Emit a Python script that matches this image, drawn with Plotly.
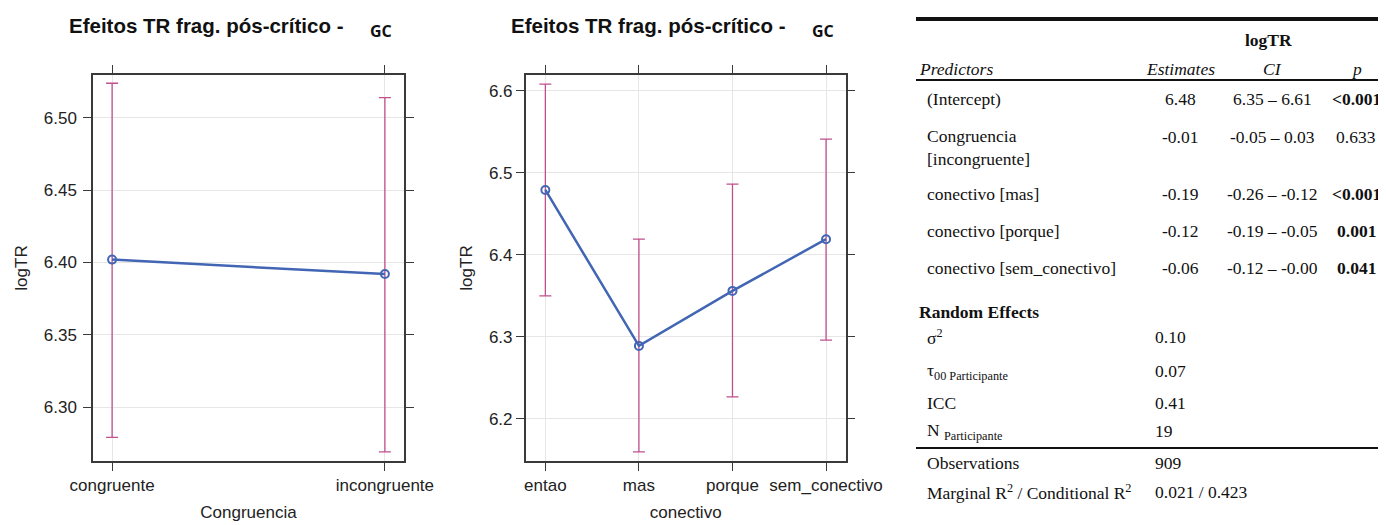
import plotly.graph_objects as go

# effect plot data
congruencia = ["congruente", "incongruente"]
cong_fit = [6.402, 6.392]
cong_lower = [6.279, 6.269]
cong_upper = [6.524, 6.514]

conectivo = ["entao", "mas", "porque", "sem_conectivo"]
con_fit = [6.479, 6.289, 6.356, 6.419]
con_lower = [6.350, 6.160, 6.227, 6.296]
con_upper = [6.608, 6.419, 6.486, 6.541]

# model table
predictors = ["(Intercept)", "Congruencia<br>[incongruente]", "conectivo [mas]",
              "conectivo [porque]", "conectivo [sem_conectivo]"]
estimates = ["6.48", "-0.01", "-0.19", "-0.12", "-0.06"]
ci_text = ["6.35 – 6.61", "-0.05 – 0.03", "-0.26 – -0.12", "-0.19 – -0.05", "-0.12 – -0.00"]
p_text = ["&lt;0.001", "0.633", "&lt;0.001", "0.001", "0.041"]
p_bold = [True, False, True, True, True]
random_labels = ["σ<sup>2</sup>", "τ<sub>00 Participante</sub>", "ICC", "N <sub>Participante</sub>"]
random_values = ["0.10", "0.07", "0.41", "19"]
fit_labels = ["Observations", "Marginal R<sup>2</sup> / Conditional R<sup>2</sup>"]
fit_values = ["909", "0.021 / 0.423"]

W, H = 1386, 525
OFF = 8  # nudge so the page lands where the reference has it
LINE = "#4266b4"
ERR = "#c0508c"
GRID = "#e6e6e6"
BOX = "#3a3a3a"


def px_x(x):
    return (x - OFF) / W


def px_y(y):
    return 1 - (y - OFF) / H


fig = go.Figure()


def effect(x, fit, lo, hi, xa, ya):
    fig.add_trace(go.Scatter(
        x=x, y=fit, xaxis=xa, yaxis=ya, mode="lines+markers",
        line=dict(color=LINE, width=2.5),
        marker=dict(symbol="circle-open", size=8, color=LINE, line=dict(width=2)),
        error_y=dict(type="data", symmetric=False,
                     array=[h - f for h, f in zip(hi, fit)],
                     arrayminus=[f - l for f, l in zip(fit, lo)],
                     color=ERR, thickness=1.3, width=6),
        showlegend=False, hoverinfo="x+y",
    ))


effect(congruencia, cong_fit, cong_lower, cong_upper, "x", "y")
effect(conectivo, con_fit, con_lower, con_upper, "x2", "y2")

axis_font = dict(family="Liberation Sans, Arial", size=17, color="#222")
common = dict(showline=True, linecolor=BOX, linewidth=1.5, mirror="ticks",
              ticks="outside", ticklen=8, tickcolor=BOX, tickwidth=1.2,
              showgrid=True, gridcolor=GRID, gridwidth=1, zeroline=False,
              automargin=False, tickfont=axis_font, title_font=axis_font)

fig.update_layout(
    width=W, height=H, margin=dict(l=0, r=0, t=0, b=0, autoexpand=False),
    plot_bgcolor="white", paper_bgcolor="white",
    xaxis=dict(common, domain=[px_x(93), px_x(404)], type="category",
               range=[-0.07, 1.07], title=dict(text="Congruencia", standoff=12)),
    yaxis=dict(common, domain=[px_y(461), px_y(75)], range=[6.2627, 6.5297],
               tickvals=[6.30, 6.35, 6.40, 6.45, 6.50], tickformat=".2f",
               ticklabelstandoff=3, title=dict(text="logTR", standoff=12)),
    xaxis2=dict(common, domain=[px_x(525.7), px_x(845.7)], type="category",
                anchor="y2", range=[-0.21, 3.21], title=dict(text="conectivo", standoff=12)),
    yaxis2=dict(common, domain=[px_y(461), px_y(75)], anchor="x2", range=[6.1488, 6.619],
                tickvals=[6.2, 6.3, 6.4, 6.5, 6.6], tickformat=".1f",
                title=dict(text="logTR", standoff=12)),
)

ann = []
title_font = dict(family="Liberation Sans, Arial", size=20.5, color="#111")
gc_font = dict(family="Open Sans", size=16, color="#111")
for cx, gx in [(206.5, 381), (648, 823)]:
    ann.append(dict(text="<b>Efeitos TR frag. pós-crítico -</b>", x=px_x(cx), y=px_y(26),
                    font=title_font))
    ann.append(dict(text="<b>GC</b>", x=px_x(gx), y=px_y(31), font=gc_font))

serif = dict(family="Liberation Serif, Times New Roman", size=17.5, color="#111")
LX = 925
PX = 1356
ann.append(dict(text="<b>logTR</b>", x=px_x(1268), y=px_y(40), font=serif))
ann.append(dict(text="<i>Predictors</i>", x=px_x(917), y=px_y(69), xanchor="left", font=serif))
ann.append(dict(text="<i>Estimates</i>", x=px_x(1180), y=px_y(69), font=serif))
ann.append(dict(text="<i>CI</i>", x=px_x(1272), y=px_y(69), font=serif))
ann.append(dict(text="<i>p</i>", x=px_x(PX), y=px_y(69), font=serif))

row_y = [99, 147, 194, 231, 268]
for i, yy in enumerate(row_y):
    ty = 137 if i == 1 else yy
    ann.append(dict(text=predictors[i], x=px_x(LX), y=px_y(yy), xanchor="left",
                    align="left", font=serif))
    ann.append(dict(text=estimates[i], x=px_x(1180), y=px_y(ty), font=serif))
    ann.append(dict(text=ci_text[i], x=px_x(1272), y=px_y(ty), font=serif))
    pt = f"<b>{p_text[i]}</b>" if p_bold[i] else p_text[i]
    ann.append(dict(text=pt, x=px_x(PX), y=px_y(ty), font=serif))

ann.append(dict(text="<b>Random Effects</b>", x=px_x(917), y=px_y(312), xanchor="left", font=serif))
for lab, val, yy in zip(random_labels, random_values, [337, 371, 403, 431]):
    ann.append(dict(text=lab, x=px_x(LX), y=px_y(yy), xanchor="left", font=serif))
    ann.append(dict(text=val, x=px_x(1153), y=px_y(yy), xanchor="left", font=serif))
for lab, val, yy in zip(fit_labels, fit_values, [463, 492]):
    ann.append(dict(text=lab, x=px_x(LX), y=px_y(yy), xanchor="left", font=serif))
    ann.append(dict(text=val, x=px_x(1153), y=px_y(yy), xanchor="left", font=serif))

for a in ann:
    a.setdefault("xanchor", "center")
    a.update(xref="paper", yref="paper", yanchor="middle", showarrow=False)
fig.update_layout(annotations=ann)

rules = [(19, 4), (80, 2.2), (448, 2.2)]
fig.update_layout(shapes=[
    dict(type="line", xref="paper", yref="paper", x0=px_x(916), x1=1, y0=px_y(y), y1=px_y(y),
         line=dict(color="#111", width=w))
    for y, w in rules
])

fig.write_html("out.html")
